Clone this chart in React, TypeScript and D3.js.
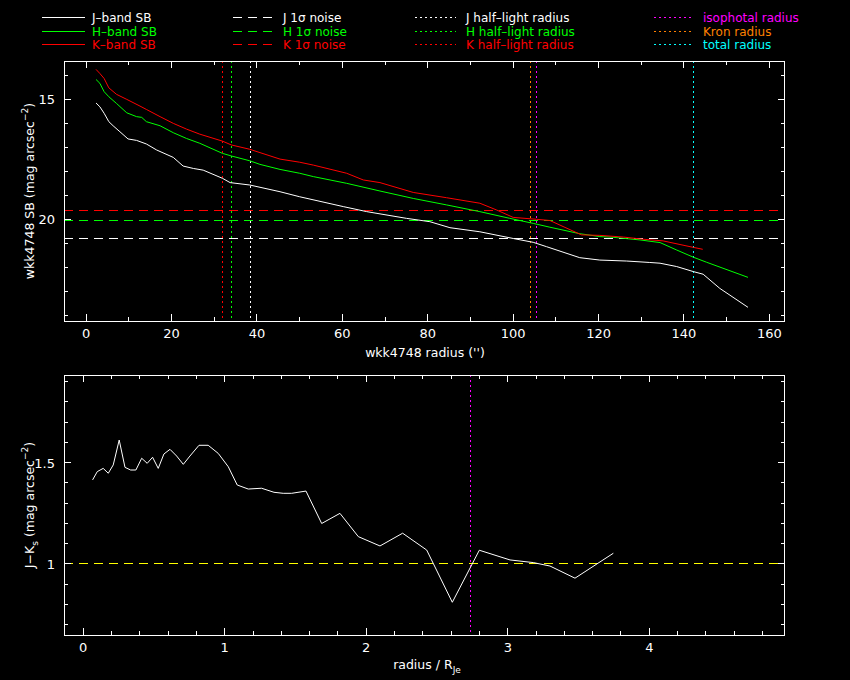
import * as d3 from "d3";
import React from "react";

// J, H, K surface brightness profiles (radius in arcsec, mag/arcsec^2)
const jRadius = [2.3, 3.2, 4.2, 5.3, 6.3, 7.9, 9.8, 11.8, 14.1, 16.5, 20.4, 22.7, 25.1, 27.4, 31.9, 33.7, 38.3, 45.4, 50, 60.2, 65.7, 75, 80.5, 85.2, 92.2, 100, 104.7, 107.8, 115.6, 120.3, 126.6, 132, 134.4, 138.3, 142.2, 144.5, 148.4, 155];
const jSB = [15.15, 15.31, 15.58, 15.93, 16.1, 16.35, 16.65, 16.71, 16.86, 17.11, 17.42, 17.78, 17.88, 17.95, 18.29, 18.47, 18.57, 18.85, 19.06, 19.47, 19.68, 19.96, 20.1, 20.35, 20.52, 20.8, 20.96, 21.14, 21.6, 21.7, 21.74, 21.8, 21.83, 21.97, 22.18, 22.29, 22.88, 23.67];

const hRadius = [2.3, 3.2, 4.2, 5.3, 7.1, 9.5, 11.8, 13, 14.1, 17.3, 20.4, 23.5, 26.6, 31.9, 34, 38.3, 40.7, 45.4, 50, 53.2, 61, 68.8, 76.6, 84.4, 92.2, 99.2, 104.7, 108.6, 115.6, 120.3, 123.4, 129.7, 134.4, 138.3, 142.2, 145.3, 155];
const hSB = [14.17, 14.33, 14.68, 14.89, 15.17, 15.56, 15.72, 15.75, 15.93, 16.1, 16.39, 16.63, 16.83, 17.25, 17.36, 17.56, 17.71, 17.92, 18.08, 18.22, 18.5, 18.82, 19.13, 19.4, 19.68, 19.96, 20.17, 20.33, 20.6, 20.72, 20.75, 20.86, 20.97, 21.28, 21.58, 21.79, 22.42];

const kRadius = [2.3, 3.2, 4.2, 5.3, 7.1, 9.5, 12.6, 14.1, 17.3, 20.4, 23.5, 26.6, 31.9, 34, 38.3, 40.7, 45.4, 50, 53.2, 61, 64.9, 68.8, 76.6, 84.4, 92.2, 96.1, 100, 105.5, 108.6, 116, 120.3, 125.8, 130.4, 135.1, 142.2, 144.4];
const kSB = [13.75, 13.92, 14.13, 14.52, 14.79, 15.0, 15.28, 15.42, 15.72, 16.0, 16.24, 16.45, 16.74, 16.9, 17.08, 17.22, 17.49, 17.62, 17.74, 18.08, 18.36, 18.47, 18.88, 19.1, 19.33, 19.61, 19.92, 20.0, 20.05, 20.65, 20.67, 20.74, 20.83, 20.9, 21.17, 21.25];

// 1 sigma noise levels
const noiseJ = 20.82;
const noiseH = 20.04;
const noiseK = 19.625;

// radii markers (arcsec)
const halfLightJ = 38.4;
const halfLightH = 33.96;
const halfLightK = 31.85;
const isophotalRadius = 105.4;
const kronRadius = 104.0;
const totalRadius = 142.2;

// J-Ks colour profile vs radius / R_Je
const colourRadius = [0.066, 0.099, 0.141, 0.177, 0.212, 0.254, 0.295, 0.335, 0.372, 0.413, 0.452, 0.49, 0.53, 0.57, 0.613, 0.66, 0.707, 0.754, 0.818, 0.883, 0.954, 1.025, 1.088, 1.166, 1.26, 1.348, 1.413, 1.473, 1.574, 1.685, 1.814, 1.944, 2.097, 2.257, 2.427, 2.608, 2.799, 3.016, 3.18, 3.298, 3.475, 3.746];
const colourJK = [1.415, 1.456, 1.472, 1.448, 1.489, 1.612, 1.477, 1.464, 1.464, 1.522, 1.497, 1.527, 1.472, 1.543, 1.566, 1.533, 1.492, 1.533, 1.586, 1.586, 1.546, 1.48, 1.39, 1.37, 1.374, 1.354, 1.349, 1.349, 1.36, 1.2, 1.25, 1.135, 1.089, 1.152, 1.069, 0.811, 1.068, 1.02, 1.007, 0.99, 0.93, 1.053];
const colourRef = 1.0;
const isophotalScaled = 2.74;

const width = 850;
const height = 680;
const font = "DejaVu Sans, sans-serif";

const WHITE = "#ffffff";
const GREEN = "#00ff00";
const RED = "#ff0000";
const MAGENTA = "#ff00ff";
const ORANGE = "#ff8000";
const CYAN = "#00ffff";
const YELLOW = "#ffff00";

const DASH = "9,6";
const DOT = "2,3";

const left = 64;
const right = 784.7;

const xTop = d3.scaleLinear().domain([-5.2, 163.6]).range([left, right]);
const yTop = d3.scaleLinear().domain([13.4, 24.24]).range([61, 321]);
const xBot = d3.scaleLinear().domain([-0.136, 4.957]).range([left, right]);
const yBot = d3.scaleLinear().domain([1.933, 0.648]).range([375, 635.3]);

const Frame = ({ x, y, xMajor, xMinor, yMajor, yMinor, xFmt, yFmt }: any) => {
  const [x0, x1] = x.range();
  const [y0, y1] = y.range();
  const big = 7;
  const small = 4;
  return (
    <g stroke={WHITE} strokeWidth={1} shapeRendering="crispEdges">
      <rect x={x0} y={y0} width={x1 - x0} height={y1 - y0} fill="none" />
      {xMinor.map((v: number) => (
        <g key={"xm" + v}>
          <line x1={x(v)} x2={x(v)} y1={y1} y2={y1 - small} />
          <line x1={x(v)} x2={x(v)} y1={y0} y2={y0 + small} />
        </g>
      ))}
      {xMajor.map((v: number) => (
        <g key={"xM" + v}>
          <line x1={x(v)} x2={x(v)} y1={y1} y2={y1 - big} />
          <line x1={x(v)} x2={x(v)} y1={y0} y2={y0 + big} />
          <text x={x(v)} y={y1 + 17} fill={WHITE} stroke="none" fontSize={13} textAnchor="middle" fontFamily={font}>
            {xFmt(v)}
          </text>
        </g>
      ))}
      {yMinor.map((v: number) => (
        <g key={"ym" + v}>
          <line x1={x0} x2={x0 + small} y1={y(v)} y2={y(v)} />
          <line x1={x1} x2={x1 - small} y1={y(v)} y2={y(v)} />
        </g>
      ))}
      {yMajor.map((v: number) => (
        <g key={"yM" + v}>
          <line x1={x0} x2={x0 + big} y1={y(v)} y2={y(v)} />
          <line x1={x1} x2={x1 - big} y1={y(v)} y2={y(v)} />
          <text x={x0 - 9} y={y(v) + 5} fill={WHITE} stroke="none" fontSize={13} textAnchor="end" fontFamily={font}>
            {yFmt(v)}
          </text>
        </g>
      ))}
    </g>
  );
};

const legendRows = [
  { col: 0, row: 0, color: WHITE, dash: null, label: "J\u2013band SB" },
  { col: 0, row: 1, color: GREEN, dash: null, label: "H\u2013band SB" },
  { col: 0, row: 2, color: RED, dash: null, label: "K\u2013band SB" },
  { col: 1, row: 0, color: WHITE, dash: DASH, label: "J 1\u03c3 noise" },
  { col: 1, row: 1, color: GREEN, dash: DASH, label: "H 1\u03c3 noise" },
  { col: 1, row: 2, color: RED, dash: DASH, label: "K 1\u03c3 noise" },
  { col: 2, row: 0, color: WHITE, dash: DOT, label: "J half\u2013light radius" },
  { col: 2, row: 1, color: GREEN, dash: DOT, label: "H half\u2013light radius" },
  { col: 2, row: 2, color: RED, dash: DOT, label: "K half\u2013light radius" },
  { col: 3, row: 0, color: MAGENTA, dash: DOT, label: "isophotal radius" },
  { col: 3, row: 1, color: ORANGE, dash: DOT, label: "Kron radius" },
  { col: 3, row: 2, color: CYAN, dash: DOT, label: "total radius" },
];
const legendCols = [
  { x0: 42, x1: 85, tx: 92 },
  { x0: 233, x1: 277, tx: 283 },
  { x0: 415, x1: 456, tx: 466 },
  { x0: 654, x1: 694, tx: 703 },
];
const legendRowY = [17, 31, 44];

export default function App() {
  const makeTop = (r: number[], sb: number[]) =>
    d3.line<number>().x((_, i) => xTop(r[i])).y((d) => yTop(d))(sb) as string;
  const colourPath = d3
    .line<number>()
    .x((_, i) => xBot(colourRadius[i]))
    .y((d) => yBot(d))(colourJK) as string;

  const noise = [
    { v: noiseK, c: RED },
    { v: noiseH, c: GREEN },
    { v: noiseJ, c: WHITE },
  ];
  const radii = [
    { v: halfLightK, c: RED },
    { v: halfLightH, c: GREEN },
    { v: halfLightJ, c: WHITE },
    { v: kronRadius, c: ORANGE },
    { v: isophotalRadius, c: MAGENTA },
    { v: totalRadius, c: CYAN },
  ];

  return (
    <svg
      width={width}
      height={height}
      viewBox={`0 0 ${width} ${height}`}
      style={{ position: "absolute", left: 0, top: 0, background: "#000" }}
    >
      <rect x={0} y={0} width={width} height={height} fill="#000" />

      {/* legend */}
      <g fontFamily={font} fontSize={12}>
        {legendRows.map((d) => {
          const c = legendCols[d.col];
          const y = legendRowY[d.row];
          return (
            <g key={d.label}>
              <line
                x1={c.x0}
                x2={c.x1}
                y1={y}
                y2={y}
                stroke={d.color}
                strokeDasharray={d.dash || undefined}
                shapeRendering="crispEdges"
              />
              <text x={c.tx} y={y + 4.5} fill={d.color}>
                {d.label}
              </text>
            </g>
          );
        })}
      </g>

      {/* top panel: surface brightness */}
      <g>
        {noise.map((d) => (
          <line
            key={d.v}
            x1={left}
            x2={right}
            y1={yTop(d.v)}
            y2={yTop(d.v)}
            stroke={d.c}
            strokeDasharray={DASH}
            shapeRendering="crispEdges"
          />
        ))}
        {radii.map((d) => (
          <line
            key={d.v}
            x1={xTop(d.v)}
            x2={xTop(d.v)}
            y1={yTop.range()[0]}
            y2={yTop.range()[1]}
            stroke={d.c}
            strokeDasharray={DOT}
            shapeRendering="crispEdges"
          />
        ))}
        <path d={makeTop(jRadius, jSB)} fill="none" stroke={WHITE} strokeWidth={1} />
        <path d={makeTop(hRadius, hSB)} fill="none" stroke={GREEN} strokeWidth={1} />
        <path d={makeTop(kRadius, kSB)} fill="none" stroke={RED} strokeWidth={1} />
        <Frame
          x={xTop}
          y={yTop}
          xMajor={d3.range(0, 161, 20)}
          xMinor={d3.range(0, 161, 10)}
          yMajor={[15, 20]}
          yMinor={d3.range(14, 25, 1)}
          xFmt={(v: number) => String(v)}
          yFmt={(v: number) => String(v)}
        />
        <text x={425} y={357} fill={WHITE} fontSize={12.5} textAnchor="middle" fontFamily={font}>
          wkk4748 radius ('')
        </text>
        <text
          transform={`translate(34,191) rotate(-90)`}
          fill={WHITE}
          fontSize={12.5}
          textAnchor="middle"
          fontFamily={font}
        >
          wkk4748 SB (mag arcsec
          <tspan dy={-6} fontSize={9}>
            −2
          </tspan>
          <tspan dy={6}>)</tspan>
        </text>
      </g>

      {/* bottom panel: colour */}
      <g>
        <line
          x1={left}
          x2={right}
          y1={yBot(colourRef)}
          y2={yBot(colourRef)}
          stroke={YELLOW}
          strokeDasharray={DASH}
          shapeRendering="crispEdges"
        />
        <line
          x1={xBot(isophotalScaled)}
          x2={xBot(isophotalScaled)}
          y1={yBot.range()[0]}
          y2={yBot.range()[1]}
          stroke={MAGENTA}
          strokeDasharray={DOT}
          shapeRendering="crispEdges"
        />
        <path d={colourPath} fill="none" stroke={WHITE} strokeWidth={1} />
        <Frame
          x={xBot}
          y={yBot}
          xMajor={d3.range(0, 5, 1)}
          xMinor={d3.range(0, 4.95, 0.2).map((v) => +v.toFixed(1))}
          yMajor={[1, 1.5]}
          yMinor={d3.range(0.7, 1.95, 0.1).map((v) => +v.toFixed(1))}
          xFmt={(v: number) => String(v)}
          yFmt={(v: number) => String(v)}
        />
        <text x={427} y={669} fill={WHITE} fontSize={12.5} textAnchor="middle" fontFamily={font}>
          radius / R
          <tspan dy={4} fontSize={9}>
            Je
          </tspan>
        </text>
        <text
          transform={`translate(34,505) rotate(-90)`}
          fill={WHITE}
          fontSize={12.5}
          textAnchor="middle"
          fontFamily={font}
        >
          J−K
          <tspan dy={4} fontSize={9}>
            s
          </tspan>
          <tspan dy={-4}> (mag arcsec</tspan>
          <tspan dy={-6} fontSize={9}>
            −2
          </tspan>
          <tspan dy={6}>)</tspan>
        </text>
      </g>
    </svg>
  );
}
